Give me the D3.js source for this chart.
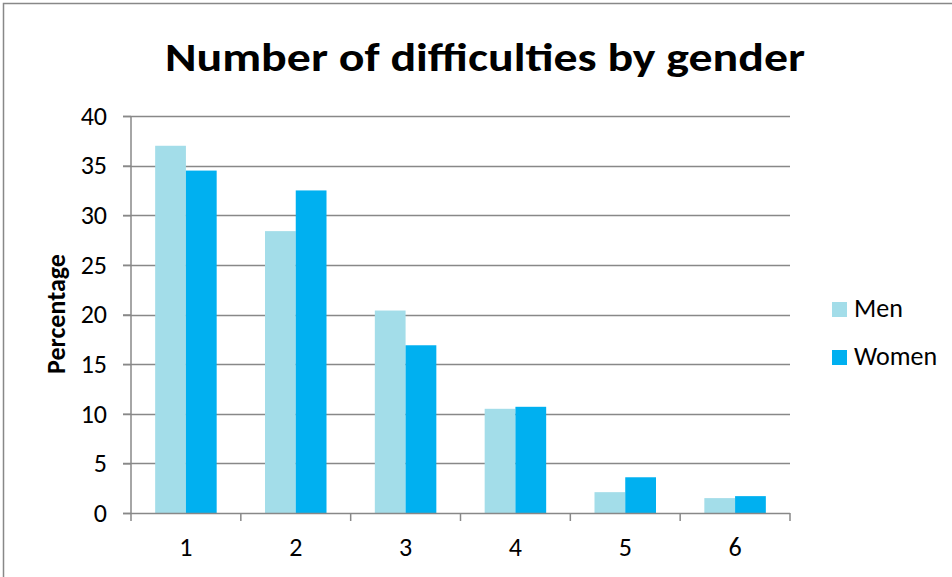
<!DOCTYPE html>
<html>
<head>
<meta charset="utf-8">
<script src="https://cdn.jsdelivr.net/npm/d3@7"></script>
<style>
  body { margin: 0; background: #fff; }
  svg { display: block; }
  text { font-family: Carlito, "Open Sans", sans-serif; fill: #000; }
</style>
</head>
<body>
<svg id="chart" width="952" height="577"></svg>
<script>
let categories = ["1", "2", "3", "4", "5", "6"]
let seriesNames = ["Men", "Women"]
let menValues = [37.0, 28.4, 20.4, 10.5, 2.1, 1.5]
let womenValues = [34.5, 32.5, 16.9, 10.7, 3.6, 1.7]
let yTicks = [0, 5, 10, 15, 20, 25, 30, 35, 40]
let colors = ["#a3dde9", "#00b0f0"]

let svg = d3.select('#chart')
let gridColor = '#888888'

// chart frame (only left/top edge visible)
svg.append('rect')
   .attr('x', 3.5).attr('y', 3.5)
   .attr('width', 960).attr('height', 600)
   .attr('fill', 'none')
   .attr('stroke', gridColor)
   .attr('stroke-width', 1.5)

let plotLeft = 131, plotRight = 790, plotTop = 116, plotBottom = 513

let xScale = d3.scaleBand()
               .domain(categories)
               .range([plotLeft, plotRight])
               .paddingInner(0.44)
               .paddingOuter(0.22)

let xSub = d3.scaleBand()
             .domain(seriesNames)
             .range([0, xScale.bandwidth()])

let yScale = d3.scaleLinear()
               .domain([0, 40])
               .range([plotBottom, plotTop])

// grid lines
svg.append('g')
   .selectAll('line')
   .data(yTicks.filter(t => t > 0))
   .enter()
   .append('line')
   .attr('x1', plotLeft - 8)
   .attr('x2', plotRight)
   .attr('y1', d => Math.round(yScale(d)) + 0.5)
   .attr('y2', d => Math.round(yScale(d)) + 0.5)
   .attr('stroke', gridColor)
   .attr('stroke-width', 1.5)

// bars
let rows = categories.map((c, i) => ({cat: c, values: [menValues[i], womenValues[i]]}))

svg.append('g')
   .selectAll('g')
   .data(rows)
   .enter()
   .append('g')
   .attr('transform', d => 'translate(' + xScale(d.cat) + ',0)')
   .selectAll('rect')
   .data(d => d.values.map((v, j) => ({name: seriesNames[j], value: v, color: colors[j]})))
   .enter()
   .append('rect')
   .attr('x', d => xSub(d.name))
   .attr('width', xSub.bandwidth())
   .attr('y', d => yScale(d.value))
   .attr('height', d => yScale(0) - yScale(d.value))
   .attr('fill', d => d.color)

// y axis
let yAxis = svg.append('g')
   .attr('transform', 'translate(' + plotLeft + ',0)')
   .call(d3.axisLeft(yScale).tickValues(yTicks).tickSize(8).tickPadding(16))
yAxis.select('.domain').remove()
yAxis.append('line')
     .attr('x1', 0).attr('x2', 0)
     .attr('y1', plotTop).attr('y2', plotBottom + 8)
     .attr('stroke', gridColor).attr('stroke-width', 1.5)
yAxis.selectAll('.tick line').attr('stroke', gridColor).attr('stroke-width', 1.5)
yAxis.selectAll('.tick text')
     .style('font-family', 'Carlito, "Open Sans", sans-serif')
     .style('font-size', '26px')
     .attr('fill', '#000')

// x axis
let xAxisG = svg.append('g')
   .attr('transform', 'translate(0,' + plotBottom + ')')
xAxisG.append('line')
      .attr('x1', plotLeft - 8).attr('x2', plotRight)
      .attr('y1', 0.5).attr('y2', 0.5)
      .attr('stroke', gridColor).attr('stroke-width', 1.5)
let step = xScale.step()
xAxisG.selectAll('.cat-tick')
      .data(categories)
      .enter()
      .append('line')
      .attr('class', 'cat-tick')
      .attr('x1', d => xScale(d) + xScale.bandwidth() / 2 + step / 2)
      .attr('x2', d => xScale(d) + xScale.bandwidth() / 2 + step / 2)
      .attr('y1', 0).attr('y2', 8)
      .attr('stroke', gridColor).attr('stroke-width', 1.5)
xAxisG.selectAll('.cat-label')
      .data(categories)
      .enter()
      .append('text')
      .attr('class', 'cat-label')
      .attr('x', d => xScale(d) + xScale.bandwidth() / 2)
      .attr('y', 43)
      .attr('text-anchor', 'middle')
      .style('font-size', '26px')
      .text(d => d)

// title
svg.append('text')
   .attr('x', 485)
   .attr('y', 71)
   .attr('text-anchor', 'middle')
   .attr('textLength', 640)
   .attr('lengthAdjust', 'spacingAndGlyphs')
   .style('font-size', '40px')
   .style('font-weight', 'bold')
   .text('Number of difficulties by gender')

// y axis title
svg.append('text')
   .attr('transform', 'translate(65,314) rotate(-90)')
   .attr('text-anchor', 'middle')
   .style('font-size', '26px')
   .style('font-weight', 'bold')
   .text('Percentage')

// legend
let legend = svg.append('g')
   .selectAll('g')
   .data(seriesNames)
   .enter()
   .append('g')
   .attr('transform', (d, i) => 'translate(832,' + (302 + i * 48) + ')')
legend.append('rect')
      .attr('width', 15).attr('height', 15)
      .attr('fill', (d, i) => colors[i])
legend.append('text')
      .attr('x', 22).attr('y', 15)
      .style('font-size', '26px')
      .text(d => d)
</script>
</body>
</html>
